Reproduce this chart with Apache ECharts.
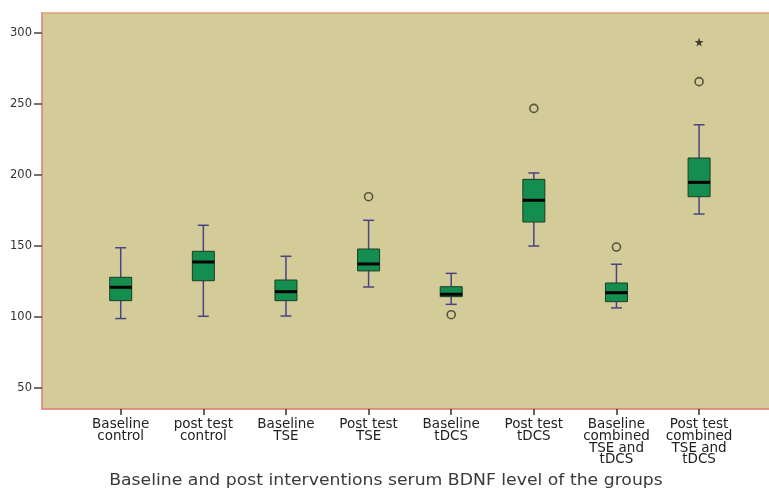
<!DOCTYPE html>
<html>
<head>
<meta charset="utf-8">
<script src="https://cdn.jsdelivr.net/npm/echarts@6/dist/echarts.min.js"></script>
<style>html,body{margin:0;padding:0;background:#fff;}#c{width:769px;height:490px;}</style>
</head>
<body>
<div id="c"></div>
<script>
const categories = ['Baseline\ncontrol','post test\ncontrol','Baseline\nTSE','Post test\nTSE','Baseline\ntDCS','Post test\ntDCS','Baseline\ncombined\nTSE and\ntDCS','Post test\ncombined\nTSE and\ntDCS'];
const whiskerLow  = [99, 100.6, 100.8, 121.2, 109, 150, 106.5, 172.5];
const q1          = [111.6, 125.6, 111.6, 132.5, 114.4, 166.9, 110.9, 184.7];
const median      = [121, 138.8, 117.9, 137.4, 116.1, 182.2, 117.2, 194.8];
const q3          = [128, 146.3, 126.1, 147.9, 121.4, 196.9, 124, 211.9];
const whiskerHigh = [148.8, 164.6, 142.8, 168.1, 130.8, 201.4, 137.2, 235.3];
const outliers = [[3, 184.7], [4, 101.7], [5, 246.8], [6, 149.3], [7, 265.6]];
const extremes = [[7, 293.5]];
const yTicks = [50, 100, 150, 200, 250, 300];
const xTitle = 'Baseline and post interventions serum BDNF level of the groups';

const boxData = categories.map((c, i) => [i, whiskerLow[i], q1[i], median[i], q3[i], whiskerHigh[i]]);

const YMIN = 35.4, YMAX = 314.1;
const chart = echarts.init(document.getElementById('c'));
chart.setOption({
  animation: false,
  backgroundColor: '#ffffff',
  grid: [
    {left: 42, right: 0, top: 12.7, bottom: 81, show: true, backgroundColor: '#d3cc98', borderWidth: 0},
    {left: 79.4, width: 661, top: 12.7, bottom: 81}
  ],
  xAxis: [
    {gridIndex: 0, type: 'value', min: 0, max: 1, position: 'bottom',
     axisLine: {show: true, lineStyle: {color: '#e07870', width: 1.5}}, axisTick: {show: false}, axisLabel: {show: false}, splitLine: {show: false}},
    {gridIndex: 1, type: 'category', data: categories, boundaryGap: true, position: 'bottom',
     axisLine: {show: false},
     axisTick: {show: true, alignWithLabel: true, length: 6, lineStyle: {color: '#333', width: 1.5}},
     axisLabel: {color: '#222', fontFamily: 'DejaVu Sans', fontSize: 13.5, lineHeight: 11.7, margin: 10, interval: 0},
     splitLine: {show: false}},
    {gridIndex: 0, type: 'value', min: 0, max: 1, position: 'top',
     axisLine: {show: true, lineStyle: {color: '#dca27a', width: 1.5}}, axisTick: {show: false}, axisLabel: {show: false}, splitLine: {show: false}}
  ],
  yAxis: [
    {gridIndex: 0, type: 'value', min: YMIN, max: YMAX,
     axisLine: {show: true, lineStyle: {color: '#e07870', width: 1.5}},
     axisTick: {show: true, inside: false, customValues: yTicks, length: 8, lineStyle: {color: '#444', width: 1.5}},
     axisLabel: {customValues: yTicks, color: '#333', fontFamily: 'DejaVu Sans', fontSize: 11.5, margin: 10},
     splitLine: {show: false}},
    {gridIndex: 1, type: 'value', min: YMIN, max: YMAX, show: false, splitLine: {show: false}}
  ],
  series: [
    {
      type: 'custom', xAxisIndex: 1, yAxisIndex: 1, data: boxData,
      renderItem: function (params, api) {
        const x = api.value(0);
        const pLow = api.coord([x, api.value(1)]);
        const pQ1 = api.coord([x, api.value(2)]);
        const pMed = api.coord([x, api.value(3)]);
        const pQ3 = api.coord([x, api.value(4)]);
        const pHigh = api.coord([x, api.value(5)]);
        const cx = pMed[0];
        const hw = 11, cw = 5.5;
        const wStyle = {stroke: '#4a4482', lineWidth: 1.5};
        return {type: 'group', children: [
          {type: 'line', shape: {x1: cx, y1: pQ3[1], x2: cx, y2: pHigh[1]}, style: wStyle},
          {type: 'line', shape: {x1: cx, y1: pQ1[1], x2: cx, y2: pLow[1]}, style: wStyle},
          {type: 'line', shape: {x1: cx - cw, y1: pHigh[1], x2: cx + cw, y2: pHigh[1]}, style: wStyle},
          {type: 'line', shape: {x1: cx - cw, y1: pLow[1], x2: cx + cw, y2: pLow[1]}, style: wStyle},
          {type: 'rect', shape: {x: cx - hw, y: pQ3[1], width: 2 * hw, height: pQ1[1] - pQ3[1]},
           style: {fill: '#138e4e', stroke: '#1f3a28', lineWidth: 1}},
          {type: 'line', shape: {x1: cx - hw, y1: pMed[1], x2: cx + hw, y2: pMed[1]}, style: {stroke: '#000', lineWidth: 3}}
        ]};
      }
    },
    {
      type: 'scatter', xAxisIndex: 1, yAxisIndex: 1, data: outliers,
      symbol: 'circle', symbolSize: 8,
      itemStyle: {color: 'rgba(0,0,0,0)', borderColor: '#3a3624', borderWidth: 1.6}
    },
    {
      type: 'scatter', xAxisIndex: 1, yAxisIndex: 1, data: extremes,
      symbol: 'path://M50,0 L61,35 L98,35 L68,57 L79,91 L50,70 L21,91 L32,57 L2,35 L39,35 Z', symbolSize: 9,
      itemStyle: {color: '#1a1a14'}
    }
  ],
  graphic: [
    {type: 'text', x: 386, y: 481, scaleX: 1.15, style: {text: xTitle, fill: '#3a3a3a', font: '15px "DejaVu Sans"', textAlign: 'center', textVerticalAlign: 'middle'}}
  ]
});
</script>
</body>
</html>
